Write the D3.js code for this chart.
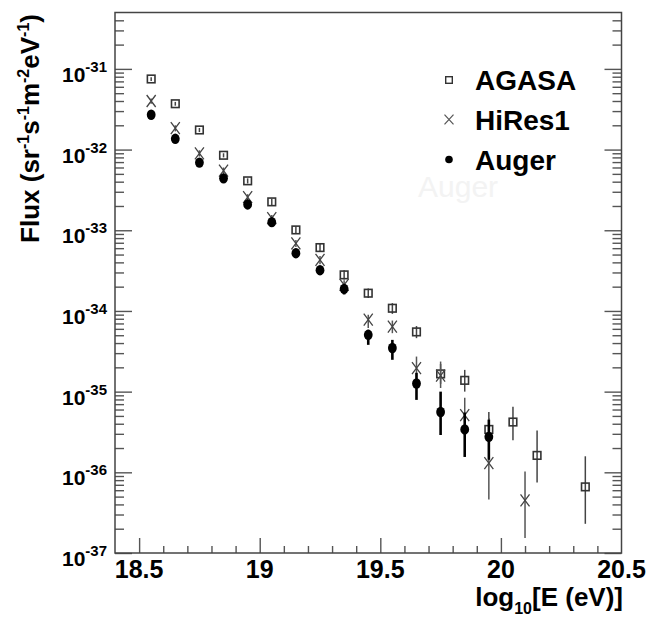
<!DOCTYPE html>
<html>
<head>
<meta charset="utf-8">
<script src="https://cdn.jsdelivr.net/npm/d3@7"></script>
<style>
  body { margin: 0; background: #fff; }
  svg { display: block; font-family: "Liberation Sans", Arial, Helvetica, sans-serif; }
  .tick line { stroke: #555; stroke-width: 1.4; }
  .lbl { font-weight: bold; fill: #000; }
</style>
</head>
<body>
<svg id="chart"></svg>
<script>
// ---- data ----
const agasaE = [18.55, 18.65, 18.75, 18.85, 18.95, 19.05, 19.15, 19.25, 19.35, 19.45, 19.55, 19.65, 19.75, 19.85, 19.95, 20.05, 20.15, 20.35];
const agasaFlux = [7.5e-32, 3.7e-32, 1.75e-32, 8.5e-33, 4.1e-33, 2.25e-33, 1.01e-33, 6.1e-34, 2.8e-34, 1.66e-34, 1.08e-34, 5.5e-35, 1.66e-35, 1.38e-35, 3.4e-36, 4.2e-36, 1.62e-36, 6.6e-37];
const agasaHi = [7.9e-32, 3.9e-32, 1.85e-32, 9.0e-33, 4.4e-33, 2.45e-33, 1.12e-33, 6.9e-34, 3.2e-34, 1.9e-34, 1.25e-34, 6.5e-35, 2.2e-35, 1.86e-35, 5.6e-36, 6.5e-36, 3.3e-36, 1.58e-36];
const agasaLo = [7.1e-32, 3.5e-32, 1.65e-32, 8.0e-33, 3.8e-33, 2.05e-33, 9.0e-34, 5.4e-34, 2.45e-34, 1.45e-34, 9.2e-35, 4.6e-35, 1.25e-35, 1.0e-35, 2.0e-36, 2.5e-36, 7.5e-37, 2.3e-37];

const hiresE = [18.55, 18.65, 18.75, 18.85, 18.95, 19.05, 19.15, 19.25, 19.35, 19.45, 19.55, 19.65, 19.75, 19.85, 19.95, 20.1];
const hiresFlux = [4.0e-32, 1.84e-32, 9.0e-33, 5.5e-33, 2.57e-33, 1.41e-33, 6.9e-34, 4.3e-34, 2.1e-34, 7.8e-35, 6.4e-35, 1.95e-35, 1.58e-35, 5.1e-36, 1.3e-36, 4.5e-37];
const hiresHi = [4.3e-32, 2.0e-32, 9.8e-33, 6.0e-33, 2.8e-33, 1.55e-33, 7.6e-34, 4.8e-34, 2.4e-34, 8.95e-35, 7.6e-35, 2.72e-35, 2.36e-35, 8.4e-36, 4.7e-36, 1.02e-36];
const hiresLo = [3.7e-32, 1.68e-32, 8.2e-33, 5.0e-33, 2.35e-33, 1.28e-33, 6.2e-34, 3.8e-34, 1.8e-34, 6.16e-35, 5.3e-35, 1.48e-35, 1.11e-35, 3.37e-36, 4.6e-37, 1.53e-37];

const augerE = [18.55, 18.65, 18.75, 18.85, 18.95, 19.05, 19.15, 19.25, 19.35, 19.45, 19.55, 19.65, 19.75, 19.85, 19.95];
const augerFlux = [2.7e-32, 1.36e-32, 6.9e-33, 4.4e-33, 2.09e-33, 1.26e-33, 5.2e-34, 3.2e-34, 1.88e-34, 5.06e-35, 3.47e-35, 1.26e-35, 5.6e-36, 3.4e-36, 2.75e-36];
const augerHi = [2.9e-32, 1.5e-32, 7.6e-33, 4.9e-33, 2.35e-33, 1.42e-33, 5.9e-34, 3.6e-34, 2.15e-34, 5.83e-35, 4.38e-35, 1.71e-35, 1.0e-35, 5.5e-36, 4.5e-36];
const augerLo = [2.5e-32, 1.22e-32, 6.2e-33, 3.9e-33, 1.85e-33, 1.1e-33, 4.6e-34, 2.8e-34, 1.6e-34, 3.8e-35, 2.48e-35, 7.9e-36, 2.9e-36, 1.55e-36, 1.43e-36];

const xTickLabels = [18.5, 19, 19.5, 20, 20.5];
const yDecades = [-31, -32, -33, -34, -35, -36, -37];
const legendNames = ["AGASA", "HiRes1", "Auger"];

const W = 648, H = 621;
const margin = { top: 12.5, right: 26.5, bottom: 68, left: 115 };
const width = W - margin.left - margin.right;
const height = H - margin.top - margin.bottom;

const svg = d3.select("#chart").attr("width", W).attr("height", H);

// faint ghost text from the scanned original
svg.append("text")
    .attr("x", 418).attr("y", 197)
    .attr("font-size", 30)
    .attr("fill", "#f3f3f3")
    .text("Auger");

const chart = svg.append("g")
    .attr("transform", `translate(${margin.left},${margin.top})`);

const x = d3.scaleLinear().domain([18.4, 20.5]).range([0, width]);
const y = d3.scaleLog().domain([1e-37, 5e-31]).range([height, 0]);

// tick positions
const yMajor = yDecades.map(d => Math.pow(10, d));
const yMinor = [];
yDecades.forEach(d => {
    for (let k = 2; k <= 9; k++) {
        const v = k * Math.pow(10, d);
        if (v < 5e-31) yMinor.push(v);
    }
});
const xMajor = xTickLabels.slice(0, -1);
const xMinor = d3.range(185, 205).map(v => v / 10).filter(v => !xMajor.includes(v));

// axes: ticks point inward, no domain path
function addAxis(axis, transform) {
    const g = chart.append("g").attr("transform", transform).call(axis);
    g.select(".domain").remove();
    return g;
}
addAxis(d3.axisLeft(y).tickValues(yMajor).tickSize(-17).tickFormat(""), "translate(0,0)");
addAxis(d3.axisLeft(y).tickValues(yMinor).tickSize(-9).tickFormat(""), "translate(0,0)");
addAxis(d3.axisRight(y).tickValues(yMajor).tickSize(-17).tickFormat(""), `translate(${width},0)`);
addAxis(d3.axisRight(y).tickValues(yMinor).tickSize(-9).tickFormat(""), `translate(${width},0)`);
addAxis(d3.axisBottom(x).tickValues(xMajor).tickSize(-15).tickFormat(""), `translate(0,${height})`);
addAxis(d3.axisBottom(x).tickValues(xMinor).tickSize(-7).tickFormat(""), `translate(0,${height})`);

// frame
chart.append("rect")
    .attr("width", width).attr("height", height)
    .attr("fill", "none").attr("stroke", "#444").attr("stroke-width", 1.5);

// y tick labels 10^n
yDecades.forEach(d => {
    const t = chart.append("text")
        .attr("class", "lbl")
        .attr("x", -8)
        .attr("y", y(Math.pow(10, d)) + 13)
        .attr("text-anchor", "end");
    t.append("tspan").attr("font-size", 21).text("10");
    t.append("tspan").attr("font-size", 15).attr("dy", -10).text(d);
});

// x tick labels
xTickLabels.forEach(v => {
    chart.append("text")
        .attr("class", "lbl")
        .attr("x", x(v))
        .attr("y", height + 25)
        .attr("text-anchor", "middle")
        .attr("font-size", 25)
        .text(v);
});

// axis titles
const yTitle = svg.append("text")
    .attr("class", "lbl")
    .attr("transform", "translate(38.5,14) rotate(-90)")
    .attr("text-anchor", "end")
    .attr("font-size", 26);
[["Flux (sr", 0], ["-1", -10], ["s", 10], ["-1", -10], ["m", 10], ["-2", -10], ["eV", 10], ["-1", -10], [")", 10]]
    .forEach(([s, dy]) => {
        yTitle.append("tspan").attr("dy", dy).attr("font-size", dy < 0 ? 16 : 26).text(s);
    });

const xTitle = svg.append("text")
    .attr("class", "lbl")
    .attr("x", 623).attr("y", 605.5)
    .attr("text-anchor", "end")
    .attr("font-size", 26);
xTitle.append("tspan").text("log");
xTitle.append("tspan").attr("font-size", 16).attr("dy", 8).text("10");
xTitle.append("tspan").attr("dy", -8).text("[E (eV)]");

// error bars
function errBars(xs, lo, hi, color, w) {
    chart.append("g").selectAll("line")
        .data(xs)
        .join("line")
        .attr("x1", d => x(d)).attr("x2", d => x(d))
        .attr("y1", (d, i) => y(hi[i]))
        .attr("y2", (d, i) => y(lo[i]))
        .attr("stroke", color)
        .attr("stroke-width", w);
}

const xPath = (sx, sy) => `M${-sx},${-sy}L${sx},${sy}M${-sx},${sy}L${sx},${-sy}`;

// AGASA: open squares
errBars(agasaE, agasaLo, agasaHi, "#444", 1.5);
chart.append("g").selectAll("rect")
    .data(agasaE)
    .join("rect")
    .attr("x", d => x(d) - 3.8)
    .attr("y", (d, i) => y(agasaFlux[i]) - 3.8)
    .attr("width", 7.6).attr("height", 7.6)
    .attr("fill", "none")
    .attr("stroke", "#333")
    .attr("stroke-width", 1.6);

// HiRes1: crosses
errBars(hiresE, hiresLo, hiresHi, "#555", 1.5);
chart.append("g").selectAll("path")
    .data(hiresE)
    .join("path")
    .attr("transform", (d, i) => `translate(${x(d)},${y(hiresFlux[i])})`)
    .attr("d", xPath(4.5, 6))
    .attr("fill", "none")
    .attr("stroke", "#444")
    .attr("stroke-width", 1.3);

// Auger: filled dots
errBars(augerE, augerLo, augerHi, "#000", 2.6);
chart.append("g").selectAll("ellipse")
    .data(augerE)
    .join("ellipse")
    .attr("cx", d => x(d))
    .attr("cy", (d, i) => y(augerFlux[i]))
    .attr("rx", 4.4).attr("ry", 5.2)
    .attr("fill", "#000");

// legend
const legend = svg.append("g");
const legendY = [80, 119.5, 159.5];
legend.append("rect")
    .attr("x", 449 - 3.3).attr("y", legendY[0] - 3.3)
    .attr("width", 6.6).attr("height", 6.6)
    .attr("fill", "none").attr("stroke", "#333").attr("stroke-width", 1.4);
legend.append("path")
    .attr("transform", `translate(449,${legendY[1]})`)
    .attr("d", xPath(4.5, 4.8))
    .attr("fill", "none").attr("stroke", "#555").attr("stroke-width", 1.2);
legend.append("circle")
    .attr("cx", 449).attr("cy", legendY[2]).attr("r", 3.8)
    .attr("fill", "#000");
legendNames.forEach((name, i) => {
    legend.append("text")
        .attr("class", "lbl")
        .attr("x", 475)
        .attr("y", legendY[i] + 10)
        .attr("font-size", 28)
        .text(name);
});
</script>
</body>
</html>
